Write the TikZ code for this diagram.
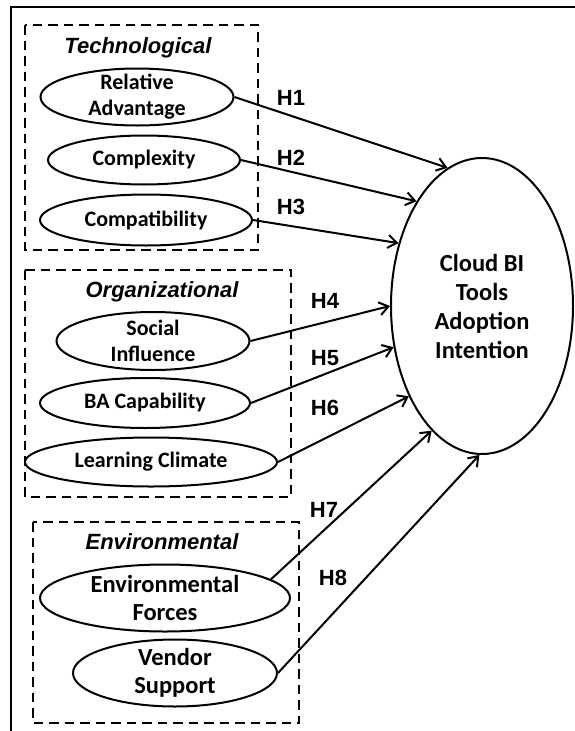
\documentclass[tikz,border=0pt]{standalone}
\usepackage{fontspec}
\setmainfont{Carlito}
\newfontfamily\arialfont{Liberation Sans}
\usetikzlibrary{shapes.geometric, arrows.meta}

\begin{document}
\begin{tikzpicture}[
    x=1pt, y=-1pt,
    grp/.style = {draw, line width=2.2pt, dash pattern=on 9.5pt off 6pt},
    grptitle/.style = {font=\arialfont\bfseries\itshape\fontsize{22}{26}\selectfont},
    ell/.style = {
      ellipse, draw, line width=2pt, inner xsep=0pt, inner ysep=-8pt,
      align=center, font=\bfseries\fontsize{22}{26}\selectfont
    },
    bigell/.style = {ell, font=\bfseries\fontsize{24.5}{28}\selectfont},
    hyp/.style = {-{Straight Barb[length=9pt, width=13pt]}, line width=2pt},
    hlabel/.style = {font=\arialfont\bfseries\fontsize{22}{26}\selectfont},
  ]
    \useasboundingbox (0,0) rectangle (575,731);
    % Frame
    \draw[line width=2pt] (575,7) -- (11,7) -- (11,731);

    % Technological
    \draw[grp] (25,25) rectangle (258,250);
    \node[grptitle] (tech) at (138,48) {Technological};
    \node[ell, minimum width=193pt, minimum height=57pt] (ra) at (137,97)  {Relative\\Advantage};
    \node[ell, minimum width=192pt, minimum height=49pt] (cx) at (144,160) {Complexity};
    \node[ell, minimum width=212pt, minimum height=51pt] (cp) at (146,220) {Compatibility};

    % Organizational
    \draw[grp] (25,270) rectangle (291,497);
    \node[grptitle] (org) at (162,292) {Organizational};
    \node[ell, minimum width=193pt, minimum height=58pt] (si)  at (153,341) {Social\\Influence};
    \node[ell, minimum width=210pt, minimum height=50pt] (bac) at (145,403) {BA Capability};
    \node[ell, minimum width=252pt, minimum height=49pt] (lc)  at (151,462) {Learning Climate};

    % Environmental
    \draw[grp] (33,522) rectangle (299,723);
    \node[grptitle] (env) at (162,542) {Environmental};
    \node[bigell, minimum width=250pt, minimum height=67pt] (ef) at (165,598) {Environmental\\Forces};
    \node[bigell, minimum width=204pt, minimum height=67pt] (vs) at (175,673) {Vendor\\Support};

    % Outcome
    \node[bigell, font=\bfseries\fontsize{24.5}{29}\selectfont,
          minimum width=182pt, minimum height=296pt] (cbi) at (482,306)
          {Cloud BI\\Tools\\Adoption\\Intention};

    % Hypotheses
    \draw[hyp] (ra.east)  -- (cbi.104);
    \draw[hyp] (cx.east)  -- (cbi.122);
    \draw[hyp] (cp.east)  -- (cbi.143);
    \draw[hyp] (si.east)  -- (cbi.180);
    \draw[hyp] (bac.east) -- (cbi.205);
    \draw[hyp] (lc.east)  -- (cbi.231);
    \draw[hyp] (ef.10)    -- (cbi.248);
    \draw[hyp] (vs.east)  -- (cbi.269);

    % Labels
    \node[hlabel] (h1) at (291,98)  {H1};
    \node[hlabel] (h2) at (291,158) {H2};
    \node[hlabel] (h3) at (291,207) {H3};
    \node[hlabel] (h4) at (325,301) {H4};
    \node[hlabel] (h5) at (325,358) {H5};
    \node[hlabel] (h6) at (325,408) {H6};
    \node[hlabel] (h7) at (324,510) {H7};
    \node[hlabel] (h8) at (333,578) {H8};
\end{tikzpicture}
\end{document}
